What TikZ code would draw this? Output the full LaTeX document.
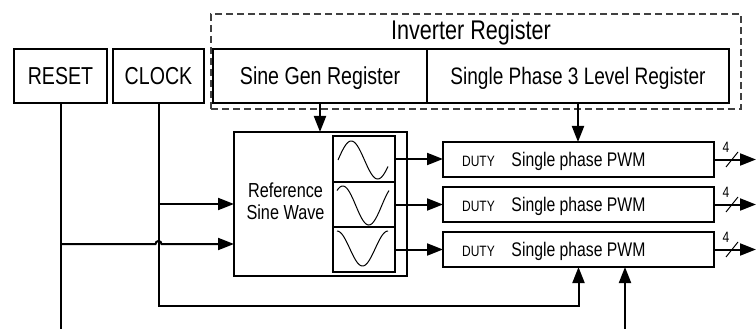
\documentclass[tikz,border=0pt]{standalone}
\usepackage{fontspec}
\setmainfont{Liberation Sans}[FakeStretch=0.8]
\usetikzlibrary{arrows.meta,calc}
\begin{document}
\begin{tikzpicture}[x=1pt,y=-1pt,
  box/.style={draw, line width=1.3pt, inner sep=0pt, outer sep=0pt, rectangle, text depth=0pt},
  big/.style={font=\fontsize{24.5}{28}\selectfont},
  pwmtxt/.style={font=\fontsize{19.7}{22}\selectfont},
  dutytxt/.style={font=\fontsize{15}{17}\selectfont, inner sep=0pt, anchor=base},
  conn/.style={line width=2pt},
  arr/.style={conn, -{Triangle[length=16pt,width=12pt]}},
  wave/.style={line width=1pt},
  dashbox/.style={draw, line width=1.2pt, dash pattern=on 7pt off 4pt, black!75, inner sep=0pt, outer sep=0pt},
  busnum/.style={font=\fontsize{15}{17}\selectfont, inner sep=0pt}
]
\useasboundingbox (0,0) rectangle (756,329);

% inverter register frame
\node[dashbox, minimum width=530pt, minimum height=95pt] (inv) at (476,61.5) {};
\node[font=\fontsize{27}{30}\selectfont, anchor=base, inner sep=0pt] (invt) at (471,40) {Inverter Register};

% top boxes
\node[box, big, minimum width=93pt, minimum height=54pt] (reset) at (60.5,76) {RESET};
\node[box, big, minimum width=91pt, minimum height=54pt] (clock) at (158.5,76) {CLOCK};
\node[box, big, minimum width=214pt, minimum height=54pt] (sgr) at (320,76) {Sine Gen Register};
\node[box, font=\fontsize{23.8}{27}\selectfont, minimum width=302pt, minimum height=54pt] (sp3) at (578,76) {Single Phase 3 Level Register};

% reference sine wave block
\node[box, line width=1.1pt, minimum width=173pt, minimum height=144pt] (ref) at (320.5,204) {};
\node[align=center, font=\fontsize{20.3}{21.5}\selectfont, inner sep=0pt] (reft) at (285.5,201.5) {Reference\\Sine Wave};
\node[box, minimum width=62pt, minimum height=46pt] (s1) at (364,159) {};
\node[box, minimum width=62pt, minimum height=45pt] (s2) at (364,204.5) {};
\node[box, minimum width=62pt, minimum height=45pt] (s3) at (364,249.5) {};
\draw[wave] plot[domain=0:340, samples=60, smooth] ({338+\x/340*50}, {160-19*sin(\x)});
\draw[wave] plot[domain=50:410, samples=60, smooth] ({337+(\x-50)/360*52}, {205.5-19.5*sin(\x)});
\draw[wave] plot[domain=90:450, samples=60, smooth] ({337+(\x-90)/360*51}, {248.5-17.5*sin(\x)});

% PWM blocks
\foreach \i/\yy in {1/159.5, 2/204.5, 3/249.5}{
  \node[box, pwmtxt, text height=14pt, minimum width=271pt, minimum height=35pt] (pwm\i) at (578.5,\yy) {Single phase PWM};
  \node[dutytxt] (duty\i) at ([xshift=-100pt]pwm\i.base) {DUTY};
  \coordinate (o\i) at (756,\yy);
  \draw[arr] (pwm\i.east) -- (o\i);
  \coordinate (sl\i) at (732,\yy);
  \draw[line width=1pt] ($(sl\i)+(-6,7.5)$) -- ($(sl\i)+(6,-7.5)$);
  \node[busnum] (n\i) at ($(sl\i)+(-6,-12)$) {4};
}

% register arrows
\draw[arr] (sgr.south) -- (sgr.south |- ref.north);
\draw[arr] (sp3.south) -- (sp3.south |- pwm1.north);

% sine outputs to PWM
\draw[arr] (s1.east) -- (s1.east -| pwm1.west);
\draw[arr] (s2.east) -- (s2.east -| pwm2.west);
\draw[arr] (s3.east) -- (s3.east -| pwm3.west);

% clock
\coordinate (cb) at (158.5,306);
\draw[arr] (clock.south) -- (cb) -| (pwm3.south);
\draw[arr] (clock.south |- ref.west) -- (ref.west);

% reset
\coordinate (rb) at (60.5,329);
\coordinate (rj) at (60.5,244);
\draw[conn] (reset.south) -- (rb);
\draw[arr] (rj) -- (155.5,244) arc[start angle=180, end angle=0, radius=3pt] -- (ref.west |- rj);

% bottom input
\coordinate (ib) at (625,329);
\draw[arr] (ib) -- (ib |- pwm3.south);
\end{tikzpicture}
\end{document}
